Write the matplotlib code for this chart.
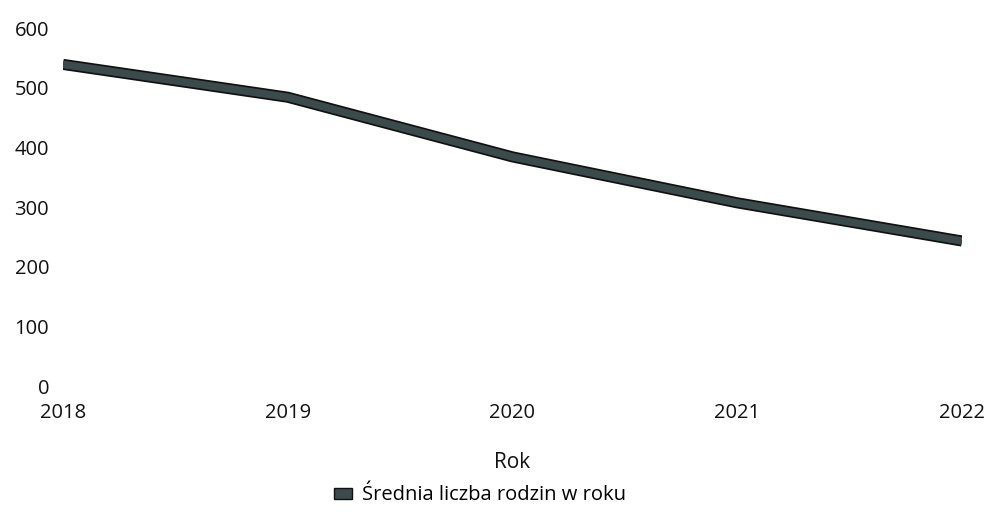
import matplotlib.pyplot as plt
import matplotlib.patches as mpatches
import matplotlib.patheffects as pe

plt.rcParams['font.family'] = ['Open Sans', 'DejaVu Sans']

lata = [2018, 2019, 2020, 2021, 2022]
rodziny = [539, 484, 384, 307, 243]
etykieta = "Średnia liczba rodzin w roku"

fig = plt.figure(figsize=(9.89, 5.14), dpi=100)
ax = fig.add_axes([0.0637, 0.249, 0.909, 0.6965])

kolor = "#3b4b4c"
ax.plot(lata, rodziny, color=kolor, lw=5.5, solid_capstyle="butt", solid_joinstyle="round",
        path_effects=[pe.Stroke(linewidth=8, foreground="#111111", capstyle="butt"), pe.Normal()])

ax.set_xlim(2018, 2022)
ax.set_ylim(0, 600)
ax.set_xticks(lata)
ax.set_yticks(range(0, 601, 100))
for s in ax.spines.values():
    s.set_visible(False)
ax.tick_params(length=0, labelsize=14.5, colors="#111111")
ax.tick_params(axis="x", pad=12)
ax.tick_params(axis="y", pad=10)
ax.set_xlabel("Rok", fontsize=15, color="#111111", labelpad=21)

uchwyt = mpatches.Patch(facecolor=kolor, edgecolor="#111111", label=etykieta)
fig.legend(handles=[uchwyt], loc="center", bbox_to_anchor=(0.485, 0.036), frameon=False,
           fontsize=14.5, handlelength=0.9, handleheight=0.45, handletextpad=0.5)

fig.savefig("out.png", dpi=100)
